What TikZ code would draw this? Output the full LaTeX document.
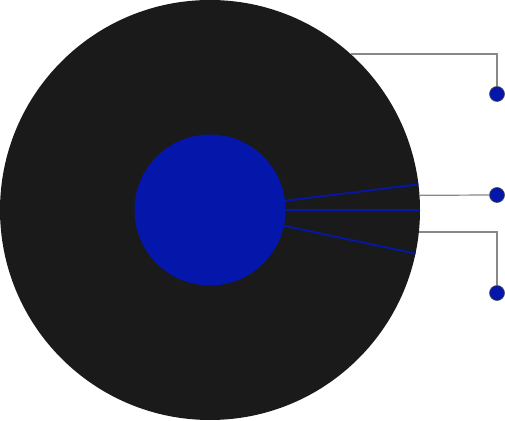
\documentclass[tikz,border=0pt]{standalone}
\usepackage{tikz}
\usetikzlibrary{positioning, calc}
\definecolor{disc_black}{RGB}{26, 26, 26}
\definecolor{core_blue}{RGB}{5, 22, 170}
\definecolor{lead_gray}{RGB}{136, 136, 136}

\begin{document}
\begin{tikzpicture}[x=1pt, y=1pt,
      disc/.style={circle, fill=disc_black, minimum size=420pt, inner sep=0pt, outer sep=0pt},
      core/.style={circle, fill=core_blue, minimum size=151pt, inner sep=0pt, outer sep=0pt},
      dot/.style={circle, fill=core_blue, draw=black!70, line width=0.6pt, minimum size=15pt, inner sep=0pt},
      spoke/.style={draw=core_blue, line width=1.8pt},
      lead/.style={draw=lead_gray, line width=1.2pt}]
    \useasboundingbox (0,0) rectangle (505,420);
    \node[disc] (outer) at (210,210) {};
    \node[core] (inner) at (210,210) {};
    \node[dot]  (d1) at (497,326) {};
    \node[dot]  (d2) at (497,225) {};
    \node[dot]  (d3) at (497,127) {};
    \foreach \a in {7, 0, -12} \draw[spoke] (inner.\a) -- (outer.\a);
    \draw[lead] (outer.48.9) -| (d1.north);
    \draw[lead] (outer.4.1) -- (d2.west);
    \draw[lead] (outer.-6.3) -| (d3.north);
  \end{tikzpicture}
\end{document}
